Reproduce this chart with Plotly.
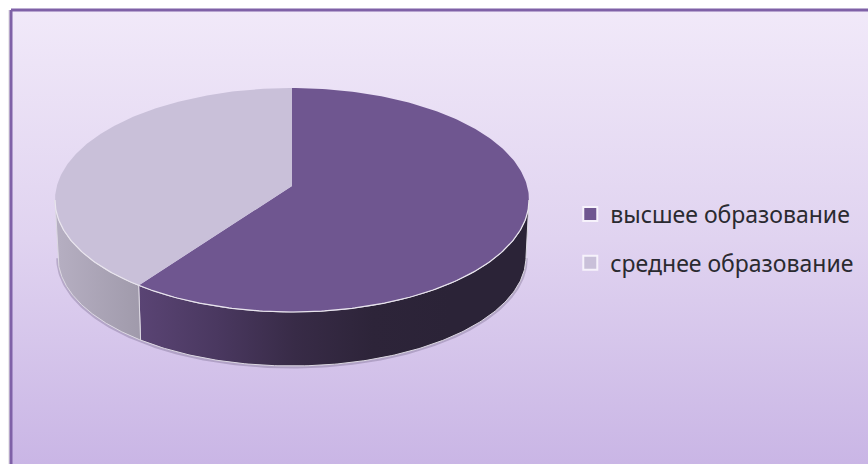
import numpy as np
import plotly.graph_objects as go

categories = ["высшее образование", "среднее образование"]
values = [61.2, 38.8]
top_colors = ["#6f5690", "#c9c0d9"]
wall_colors = [["#5a4474", "#4a3860", "#382b47", "#2d2439", "#2b2337", "#2b2337"], ["#b6afc2", "#a09aab"]]

W, H = 868, 464
CX, CY, RX, RY = 292, 200, 237, 112      # top rim
BCX, BCY, BRX, BRY = 292, 257, 234, 109  # lower rim
VX, VY = 292, 186                        # apex of the slices


def rim(t, cx, cy, rx, ry):
    return cx + rx * np.sin(t), cy - ry * np.cos(t)


fig = go.Figure()


def scale(cols):
    return [[i / (len(cols) - 1), c] for i, c in enumerate(cols)]


# Faint shadow left of the card
fig.add_trace(go.Scatter(x=[9, 9], y=[10, H + 5], mode="lines", line=dict(color="#e4e2e6", width=1.5),
                         hoverinfo="skip", showlegend=False))

# Card background with vertical gradient
fig.add_trace(go.Scatter(
    x=[11, W + 5, W + 5, 11, 11], y=[10, 10, H + 5, H + 5, 10], mode="lines",
    line=dict(color="#7f61a7", width=3), fill="toself",
    fillgradient=dict(type="vertical", colorscale=scale(["#c9b5e5", "#e0d3f0", "#f1e9f9"])),
    hoverinfo="skip", showlegend=False))

fractions = np.array(values) / sum(values)
edges = np.concatenate([[0], np.cumsum(fractions)]) * 2 * np.pi

# Soft shadow below the lower rim
ts = np.linspace(np.pi / 2, 3 * np.pi / 2, 200)
sx, sy = rim(ts, BCX, BCY + 1.2, BRX + 0.5, BRY)
fig.add_trace(go.Scatter(x=sx, y=sy, mode="lines", line=dict(color="rgba(70,60,90,0.25)", width=2.5),
                         hoverinfo="skip", showlegend=False))

# Walls
for i in range(len(values)):
    a, b = edges[i], edges[i + 1]
    a2, b2 = max(a, np.pi / 2), min(b, 3 * np.pi / 2)
    t = np.linspace(a2, b2, 160)
    x1, y1 = rim(t, CX, CY, RX, RY)
    x2, y2 = rim(t[::-1], BCX, BCY, BRX, BRY)
    cols = wall_colors[i]
    fig.add_trace(go.Scatter(
        x=np.r_[x1, x2, x1[0]], y=np.r_[y1, y2, y1[0]], mode="lines",
        line=dict(color="#dcd8e2", width=1), fill="toself",
        fillgradient=dict(type="horizontal", colorscale=scale(cols)),
        hoverinfo="skip", showlegend=False))

# Top faces
for i in range(len(values)):
    t = np.linspace(edges[i], edges[i + 1], 240)
    x, y = rim(t, CX, CY, RX, RY)
    fig.add_trace(go.Scatter(
        x=np.r_[VX, x, VX], y=np.r_[VY, y, VY], mode="lines",
        line=dict(color=top_colors[i], width=0), fill="toself", fillcolor=top_colors[i],
        hoverinfo="skip", showlegend=False))

# Light rim on the front edge of the top face
t = np.linspace(np.pi / 2, 3 * np.pi / 2, 240)
x, y = rim(t, CX, CY, RX, RY)
fig.add_trace(go.Scatter(x=x, y=y, mode="lines", line=dict(color="#e9e5ee", width=1.2),
                         hoverinfo="skip", showlegend=False))

# Legend entries
for i, name in enumerate(categories):
    fig.add_trace(go.Scatter(
        x=[None], y=[None], mode="markers", name=name, legendgroup=name,
        marker=dict(symbol="square", size=14, color=top_colors[i], line=dict(color="#f6f2fb", width=2))))

fig.update_layout(
    width=W, height=H, margin=dict(l=0, r=0, t=0, b=0), autosize=False,
    paper_bgcolor="white", plot_bgcolor="white",
    xaxis=dict(range=[0, W], visible=False, fixedrange=True),
    yaxis=dict(range=[H, 0], visible=False, fixedrange=True),
    font=dict(family="Noto Sans", color="#2a2a30"),
    legend=dict(x=0.657, y=0.486, xanchor="left", yanchor="middle", bgcolor="rgba(0,0,0,0)",
                font=dict(size=23, family="Noto Sans", color="#2a2a30"),
                tracegroupgap=16, itemsizing="trace"),
)
fig.write_html("out.html", config=dict(displayModeBar=False),
               post_script="document.body.style.margin='0';document.documentElement.style.overflow='hidden';")
